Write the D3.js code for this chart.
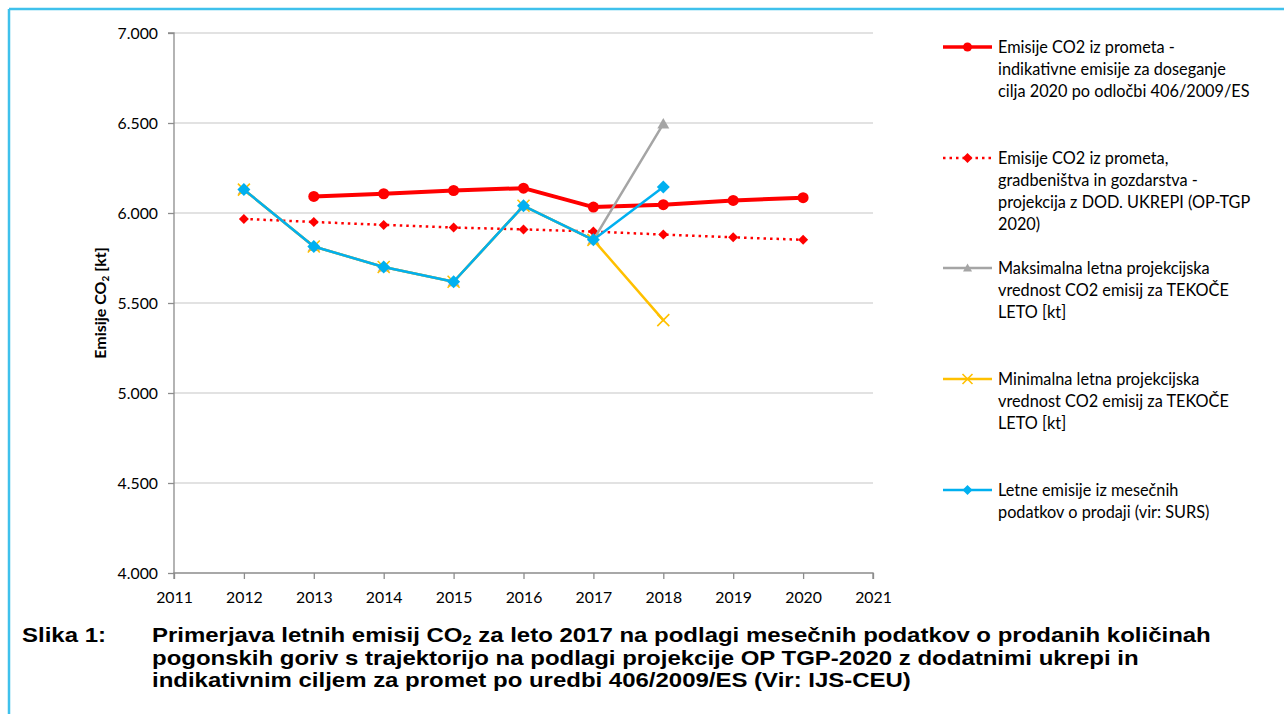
<!DOCTYPE html>
<html>
<head>
<meta charset="utf-8">
<script src="https://cdn.jsdelivr.net/npm/d3@7"></script>
<style>
  html, body { margin: 0; padding: 0; background: #fff; }
  svg { display: block; }
</style>
</head>
<body>
<svg id="chart" width="1284" height="714"></svg>
<script>
// Years on the x axis and series values (kt CO2)
const years = [2012, 2013, 2014, 2015, 2016, 2017, 2018, 2019, 2020];
const indicativeTarget = [null, 6092, 6107, 6125, 6138, 6033, 6046, 6070, 6085];
const projectionWithMeasures = [5967, 5950, 5934, 5919, 5909, 5897, 5880, 5865, 5851];
const maxProjection = [6130, 5814, 5700, 5618, 6040, 5851, 6495, null, null];
const minProjection = [6130, 5814, 5700, 5618, 6040, 5851, 5405, null, null];
const monthlySales = [6130, 5814, 5700, 5618, 6040, 5851, 6145, null, null];

const yTicks = [4000, 4500, 5000, 5500, 6000, 6500, 7000];
const xTicks = [2011, 2012, 2013, 2014, 2015, 2016, 2017, 2018, 2019, 2020, 2021];

const legendLabels = [
  ["Emisije CO2 iz prometa -", "indikativne emisije za doseganje", "cilja 2020 po odločbi 406/2009/ES"],
  ["Emisije CO2 iz prometa,", "gradbeništva in gozdarstva -", "projekcija z DOD. UKREPI (OP-TGP", "2020)"],
  ["Maksimalna letna projekcijska", "vrednost CO2 emisij za TEKOČE", "LETO [kt]"],
  ["Minimalna letna projekcijska", "vrednost CO2 emisij za TEKOČE", "LETO [kt]"],
  ["Letne emisije iz mesečnih", "podatkov o prodaji (vir: SURS)"]
];

const captionLabel = "Slika 1:";
const captionLines = [
  ["Primerjava letnih emisij CO", "2", " za leto 2017 na podlagi mesečnih podatkov o prodanih količinah"],
  ["pogonskih goriv s trajektorijo na podlagi projekcije OP TGP-2020 z dodatnimi ukrepi in"],
  ["indikativnim ciljem za promet po uredbi 406/2009/ES (Vir: IJS-CEU)"]
];

const series = [
  { values: indicativeTarget, color: "#ff0000", width: 4, dash: null, marker: "circle", size: 5.5 },
  { values: projectionWithMeasures, color: "#ff0000", width: 2.5, dash: "2.5,4", marker: "diamond", size: 5 },
  { values: maxProjection, color: "#a5a5a5", width: 2.5, dash: null, marker: "triangle", size: 6 },
  { values: minProjection, color: "#ffc000", width: 2.5, dash: null, marker: "cross", size: 6 },
  { values: monthlySales, color: "#00b0f0", width: 2.5, dash: null, marker: "diamond", size: 6.5 }
];

const font = "Lato, 'Open Sans', sans-serif";
const svg = d3.select("#chart");

// frame lines (top and left)
svg.append("line").attr("x1", 9).attr("x2", 1284).attr("y1", 9).attr("y2", 9)
  .attr("stroke", "#3fc1ec").attr("stroke-width", 2.5);
svg.append("line").attr("x1", 9).attr("x2", 9).attr("y1", 9).attr("y2", 714)
  .attr("stroke", "#3fc1ec").attr("stroke-width", 2.5);

const x = d3.scaleLinear().domain([2011, 2021]).range([174, 873]);
const y = d3.scaleLinear().domain([4000, 7000]).range([573, 33]);

// gridlines
svg.append("g").selectAll("line").data(yTicks.filter(t => t > 4000)).join("line")
  .attr("x1", x(2011)).attr("x2", x(2021))
  .attr("y1", d => y(d)).attr("y2", d => y(d))
  .attr("stroke", "#d9d9d9").attr("stroke-width", 1.3);

const fmt = d => d3.format(".3f")(d / 1000);

// y axis
const yAxis = svg.append("g").attr("transform", `translate(${x(2011)},0)`)
  .call(d3.axisLeft(y).tickValues(yTicks).tickSize(6).tickPadding(10).tickFormat(fmt));
// x axis
const xAxis = svg.append("g").attr("transform", `translate(0,${y(4000)})`)
  .call(d3.axisBottom(x).tickValues(xTicks).tickSize(6).tickPadding(13).tickFormat(d3.format("d")));

[yAxis, xAxis].forEach(a => {
  a.select(".domain").attr("stroke", "#8c8c8c").attr("stroke-width", 1.3);
  a.selectAll(".tick line").attr("stroke", "#8c8c8c").attr("stroke-width", 1.3);
  a.selectAll(".tick text").attr("fill", "#000").style("font-family", font).style("font-size", "15.8px");
});
yAxis.selectAll(".tick text").attr("dy", "0.35em");
yAxis.select(".domain").attr("d", `M-6,${y(7000)}H0V${y(4000)}`);
xAxis.select(".domain").attr("d", `M${x(2011)},6V0H${x(2021)}V6`);

// y axis title
const yt = svg.append("text")
  .attr("transform", `translate(106,${y(5500)}) rotate(-90)`)
  .attr("text-anchor", "middle")
  .style("font-family", font).style("font-size", "16px").style("font-weight", "bold")
  .attr("fill", "#000");
yt.append("tspan").text("Emisije  CO");
yt.append("tspan").text("2").attr("font-size", "10px").attr("dy", 3);
yt.append("tspan").text("  [kt]").attr("dy", -3);

// marker drawing
function drawMarker(g, type, cx, cy, s, color) {
  if (type === "circle") {
    g.append("circle").attr("cx", cx).attr("cy", cy).attr("r", s).attr("fill", color);
  } else if (type === "diamond") {
    g.append("path").attr("d", `M${cx},${cy - s}L${cx + s},${cy}L${cx},${cy + s}L${cx - s},${cy}Z`).attr("fill", color);
  } else if (type === "triangle") {
    g.append("path").attr("d", `M${cx},${cy - s}L${cx + s},${cy + s * 0.75}L${cx - s},${cy + s * 0.75}Z`).attr("fill", color);
  } else if (type === "cross") {
    g.append("path").attr("d", `M${cx - s},${cy - s}L${cx + s},${cy + s}M${cx + s},${cy - s}L${cx - s},${cy + s}`)
      .attr("stroke", color).attr("stroke-width", 1.6).attr("fill", "none");
  }
}

const line = d3.line().defined(d => d[1] != null).x(d => x(d[0])).y(d => y(d[1]));

series.forEach(s => {
  const pts = years.map((yr, i) => [yr, s.values[i]]);
  const g = svg.append("g");
  g.append("path").datum(pts).attr("d", line)
    .attr("fill", "none").attr("stroke", s.color).attr("stroke-width", s.width)
    .attr("stroke-dasharray", s.dash).attr("stroke-linejoin", "round")
    .attr("stroke-linecap", s.dash ? "butt" : "round");
  pts.filter(p => p[1] != null).forEach(p => drawMarker(g, s.marker, x(p[0]), y(p[1]), s.size, s.color));
});

// legend
const legendTop = [47, 158, 268, 379, 490];
const lg = svg.append("g");
series.forEach((s, i) => {
  const ly = legendTop[i];
  lg.append("line").attr("x1", 943).attr("x2", 992).attr("y1", ly).attr("y2", ly)
    .attr("stroke", s.color).attr("stroke-width", s.width === 4 ? 3.5 : 2.5)
    .attr("stroke-dasharray", s.dash);
  drawMarker(lg, s.marker, 967.5, ly, s.marker === "circle" ? 4.5 : (s.marker === "triangle" ? 4.5 : 5), s.color);
  const t = lg.append("text").style("font-family", font).style("font-size", "16.3px").attr("fill", "#000");
  legendLabels[i].forEach((l, j) => {
    t.append("tspan").attr("x", 998).attr("y", ly + 5.5 + j * 22.3).text(l);
  });
});

// caption: bold label plus three wrapped lines, slightly widened glyphs
const capFont = "'Liberation Sans', Arial, sans-serif";
const capSize = 20.5;
const capStretch = 1.17;
svg.append("text").attr("transform", `translate(22,642) scale(${capStretch},1)`)
  .style("font-family", capFont).style("font-size", capSize + "px").style("font-weight", "bold")
  .attr("fill", "#000").text(captionLabel);
captionLines.forEach((parts, j) => {
  const t = svg.append("text").attr("transform", `translate(152,${642 + j * 22.5}) scale(${capStretch},1)`)
    .style("font-family", capFont).style("font-size", capSize + "px").style("font-weight", "bold")
    .attr("fill", "#000");
  parts.forEach((p, k) => {
    const sp = t.append("tspan").text(p);
    if (parts.length > 1 && k === 1) sp.attr("font-size", "14px").attr("dy", 3);
    if (parts.length > 1 && k === 2) sp.attr("dy", -3);
  });
});
</script>
</body>
</html>
